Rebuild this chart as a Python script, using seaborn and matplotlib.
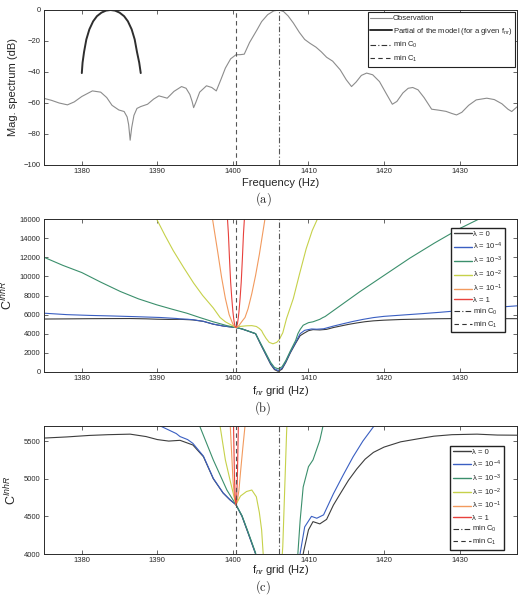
import numpy as np
import pandas as pd
import matplotlib
matplotlib.use("Agg")
import matplotlib.pyplot as plt
from matplotlib.lines import Line2D
import seaborn as sns

# ---- panel (a): observed spectrum and one partial of the model ----
obs_f = [1375.0, 1376.0, 1377.0, 1378.1, 1379.0, 1380.0, 1381.4, 1382.5, 1383.3, 1384.0,
         1384.9, 1385.6, 1386.0, 1386.2, 1386.4, 1386.6, 1386.9, 1387.3, 1387.8, 1388.7,
         1389.5, 1390.2, 1390.8, 1391.3, 1392.2, 1393.2, 1393.8, 1394.3, 1394.6, 1394.8,
         1395.1, 1395.6, 1396.5, 1397.2, 1397.8, 1398.4, 1399.0, 1399.7, 1400.4, 1401.0,
         1401.5, 1402.2, 1403.2, 1403.8, 1404.6, 1405.4, 1406.1, 1406.7, 1407.3, 1408.0,
         1408.8, 1409.5, 1410.2, 1411.0, 1411.7, 1412.4, 1413.2, 1414.2, 1415.0, 1415.7,
         1416.3, 1417.0, 1417.7, 1418.5, 1419.4, 1420.3, 1421.1, 1421.7, 1422.5, 1423.2,
         1423.8, 1424.5, 1425.3, 1426.3, 1427.2, 1428.2, 1429.0, 1429.6, 1430.3, 1431.2,
         1432.2, 1433.6, 1434.6, 1435.6, 1436.4, 1436.9, 1437.6]
obs_db = [-57.0, -58.3, -60.0, -61.2, -59.3, -55.8, -52.2, -53.0, -56.5, -61.5,
          -64.5, -65.5, -69.0, -74.0, -84.0, -76.0, -68.0, -63.5, -62.3, -60.8,
          -57.5, -55.4, -56.2, -56.9, -52.5, -49.4, -50.5, -54.5, -59.0, -63.0,
          -59.5, -53.0, -48.9, -50.0, -52.2, -45.0, -37.5, -31.5, -28.9, -28.8,
          -28.5, -21.0, -12.7, -7.5, -3.0, -0.6, 0.0, -1.0, -3.8, -8.4,
          -14.5, -19.0, -21.5, -24.0, -27.0, -30.5, -33.0, -38.6, -45.0, -49.4,
          -46.5, -42.2, -40.7, -41.8, -46.2, -54.0, -60.8, -59.0, -53.5, -50.5,
          -50.0, -51.5, -56.5, -64.0, -64.6, -65.4, -66.8, -67.7, -66.0, -61.5,
          -58.0, -56.9, -57.8, -60.5, -64.0, -65.5, -62.5]

part_f = [1380.0, 1380.1, 1380.3, 1380.6, 1381.0, 1381.5, 1382.0, 1382.6, 1383.2, 1383.8,
          1384.4, 1385.0, 1385.6, 1386.1, 1386.6, 1387.0, 1387.3, 1387.6, 1387.8]
part_db = [-40.7, -34.0, -27.0, -19.0, -12.5, -7.3, -4.0, -1.7, -0.4, 0.0,
           -0.4, -1.7, -4.0, -7.3, -12.5, -19.0, -27.0, -34.0, -40.7]

min_c1 = 1400.4
min_c0 = 1406.1

# ---- panels (b) and (c): cost function for each lambda ----
lam_labels = ["λ = 0", "λ = 10$^{-4}$", "λ = 10$^{-3}$",
              "λ = 10$^{-2}$", "λ = 10$^{-1}$", "λ = 1"]
lam_colors = ["#3d3d3d", "#3a5fc2", "#3b8f6c", "#c6d14a", "#f29a5e", "#e8413c"]

lam0_f = [1375.0, 1378.0, 1381.0, 1383.5, 1386.4, 1388.5, 1390.0, 1391.5, 1393.0, 1394.7,
          1396.1, 1397.4, 1398.7, 1399.6, 1400.4, 1401.2, 1402.0, 1403.0, 1403.6, 1404.3,
          1405.0, 1405.5, 1406.0, 1406.5, 1407.0, 1407.6, 1408.3, 1408.9, 1409.4, 1410.0,
          1410.6, 1411.5, 1412.4, 1413.3, 1414.2, 1415.3, 1416.4, 1417.5, 1418.6, 1420.0,
          1422.2, 1424.5, 1426.6, 1429.0, 1432.3, 1435.0, 1437.6]
lam0_c = [5540, 5555, 5575, 5585, 5592, 5560, 5520, 5500, 5510, 5448,
          5292, 5000, 4810, 4720, 4655, 4500, 4280, 4000, 3000, 1900,
          800, 250, 60, 300, 1000, 2000, 3000, 3800, 4050, 4320,
          4430, 4400, 4460, 4650, 4800, 4980, 5130, 5260, 5350, 5420,
          5490, 5530, 5565, 5585, 5592, 5580, 5578]

lam4_f = [1375.0, 1378.0, 1381.0, 1384.0, 1387.0, 1390.4, 1392.5, 1393.0, 1394.0, 1394.7,
          1396.1, 1397.4, 1398.7, 1399.6, 1400.4, 1401.2, 1402.0, 1403.0, 1403.6, 1404.3,
          1405.0, 1405.5, 1406.0, 1406.5, 1407.0, 1407.6, 1408.3, 1408.9, 1409.5, 1410.4,
          1411.1, 1412.0, 1413.3, 1414.6, 1415.9, 1417.2, 1418.6, 1420.0, 1422.5, 1425.0,
          1427.5, 1430.0, 1433.0, 1435.5, 1437.6]
lam4_c = [6150, 6000, 5920, 5860, 5790, 5700, 5600, 5560, 5520, 5470,
          5300, 5005, 4812, 4722, 4655, 4505, 4285, 4005, 3050, 1950,
          880, 330, 150, 400, 1080, 2080, 3100, 4010, 4360, 4500,
          4475, 4520, 4800, 5050, 5290, 5500, 5690, 5820, 5960, 6100,
          6250, 6420, 6650, 6800, 6920]

lam3_f = [1375.0, 1377.5, 1380.0, 1382.5, 1385.1, 1387.5, 1389.9, 1391.9, 1393.9, 1395.6,
          1397.4, 1399.2, 1400.4, 1401.2, 1402.0, 1403.0, 1403.6, 1404.3, 1405.0, 1405.5,
          1406.0, 1406.5, 1407.0, 1407.6, 1408.3, 1408.6, 1408.9, 1409.3, 1410.0, 1410.6,
          1411.5, 1411.9, 1412.2, 1414.5, 1416.8, 1420.0, 1423.4, 1426.7, 1430.0, 1432.7,
          1434.0]
lam3_c = [12000, 11150, 10400, 9400, 8420, 7650, 7030, 6580, 6150, 5700,
          5250, 4850, 4655, 4510, 4295, 4015, 3100, 2050, 1000, 480,
          330, 550, 1200, 2200, 3300, 4009, 4450, 4890, 5160, 5250,
          5510, 5690, 5800, 7100, 8400, 10100, 11900, 13500, 15000, 16050,
          16600]

lam2_f = [1389.5, 1389.9, 1391.0, 1392.1, 1393.5, 1394.8, 1396.0, 1397.4, 1398.3, 1399.0,
          1399.6, 1400.4, 1401.0, 1401.8, 1402.5, 1403.1, 1403.5, 1403.8, 1404.0, 1404.4,
          1404.8, 1405.3, 1405.8, 1406.1, 1406.6, 1407.1, 1408.0, 1408.8, 1409.7, 1410.5,
          1411.3, 1411.6]
lam2_c = [17000, 16000, 14300, 12700, 10900, 9300, 8000, 6700, 5700, 5250,
          4990, 4655, 4770, 4830, 4850, 4760, 4550, 4320, 4010, 3500,
          3100, 2950, 3100, 3350, 4100, 5600, 7700, 10200, 12900, 14800,
          16200, 17000]

lam1_f = [1397.0, 1397.4, 1398.0, 1398.5, 1399.0, 1399.5, 1400.0, 1400.2, 1400.4, 1400.6,
          1400.8, 1401.0, 1401.3, 1401.6, 1402.0, 1402.5, 1403.0, 1403.5, 1404.0, 1404.3]
lam1_c = [17500, 15500, 12500, 9900, 7700, 6000, 5000, 4760, 4655, 4720,
          4850, 5080, 5400, 5700, 6600, 8200, 10100, 12300, 14800, 16300]

lam_one_f = [1399.2, 1399.4, 1399.55, 1399.7, 1399.85, 1400.0, 1400.1, 1400.2, 1400.3, 1400.4,
             1400.5, 1400.6, 1400.7, 1400.8, 1400.95, 1401.1, 1401.25, 1401.4, 1401.6]
lam_one_c = [17000, 14500, 11800, 9400, 7700, 6300, 5600, 5050, 4760, 4655,
             4760, 5050, 5600, 6300, 7700, 9400, 11800, 14500, 17000]

curves = [(lam0_f, lam0_c), (lam4_f, lam4_c), (lam3_f, lam3_c),
          (lam2_f, lam2_c), (lam1_f, lam1_c), (lam_one_f, lam_one_c)]

cost = pd.concat(
    [pd.DataFrame({"f": f, "C": c, "lam": lab}) for (f, c), lab in zip(curves, lam_labels)],
    ignore_index=True,
)

x_ticks = [1380, 1390, 1400, 1410, 1420, 1430]

sns.set_style("ticks")
plt.rcParams["font.family"] = ["Liberation Sans", "DejaVu Sans"]
plt.rcParams["mathtext.fontset"] = "custom"
plt.rcParams["mathtext.rm"] = "Liberation Sans"
plt.rcParams["mathtext.it"] = "Liberation Sans:italic"
plt.rcParams["mathtext.bf"] = "Liberation Sans:bold"
plt.rcParams["axes.edgecolor"] = "#2a2a2a"
plt.rcParams["axes.linewidth"] = 0.7

fig = plt.figure(figsize=(5.26, 5.95), dpi=100)
ax_a = fig.add_axes([0.0837, 0.7227, 0.8992, 0.2605])
ax_b = fig.add_axes([0.0837, 0.3748, 0.8992, 0.2571])
ax_c = fig.add_axes([0.0837, 0.0689, 0.8992, 0.2151])

dash_c1 = (0, (4, 3))
dash_c0 = (0, (5, 2, 1, 2))
vcol = "#555555"


def style_axes(ax):
    ax.set_xlim(1375, 1437.6)
    ax.set_xticks(x_ticks)
    ax.tick_params(direction="in", top=True, right=True, length=3, width=0.5,
                   labelsize=5.5, pad=2.5, colors="#2a2a2a")
    for s in ax.spines.values():
        s.set_visible(True)


# (a)
sns.lineplot(x=obs_f, y=obs_db, ax=ax_a, color="#8c8c8c", linewidth=0.8, sort=False)
sns.lineplot(x=part_f, y=part_db, ax=ax_a, color="#2e2e2e", linewidth=1.4, sort=False)
ax_a.axvline(min_c0, color=vcol, linestyle=dash_c0, linewidth=0.8)
ax_a.axvline(min_c1, color=vcol, linestyle=dash_c1, linewidth=0.8)
style_axes(ax_a)
ax_a.set_ylim(-100, 0)
ax_a.set_yticks([-100, -80, -60, -40, -20, 0])
ax_a.set_xlabel("Frequency (Hz)", fontsize=8, labelpad=2)
ax_a.set_ylabel("Mag. spectrum (dB)", fontsize=8, labelpad=4)
h_a = [Line2D([], [], color="#8c8c8c", lw=0.8),
       Line2D([], [], color="#2e2e2e", lw=1.4),
       Line2D([], [], color="#333333", lw=0.8, ls=dash_c0),
       Line2D([], [], color="#333333", lw=0.8, ls=dash_c1)]
l_a = ["Observation", "Partial of the model (for a given f$_{nr}$)", "min C$_0$", "min C$_1$"]
leg = ax_a.legend(h_a, l_a, loc="upper right", bbox_to_anchor=(1.0, 1.0), borderaxespad=0.3,
                  fontsize=5.5, handlelength=2.8, handletextpad=0.15, labelspacing=0.45,
                  frameon=True, fancybox=False, framealpha=1, borderpad=0.35)
leg.get_frame().set_edgecolor("#222222")
leg.get_frame().set_linewidth(0.8)

# (b) and (c)
for ax, ylim, yticks, anchor, xpad in [
    (ax_b, (0, 16000), list(range(0, 16001, 2000)), (0.983, 0.967), 1),
    (ax_c, (4000, 5700), [4000, 4500, 5000, 5500], (0.981, 0.877), -1),
]:
    sns.lineplot(data=cost, x="f", y="C", hue="lam", palette=lam_colors,
                 hue_order=lam_labels, estimator=None, sort=False,
                 linewidth=0.8, ax=ax, legend=False)
    ax.axvline(min_c0, color=vcol, linestyle=dash_c0, linewidth=0.8)
    ax.axvline(min_c1, color=vcol, linestyle=dash_c1, linewidth=0.8)
    style_axes(ax)
    ax.set_ylim(*ylim)
    ax.set_yticks(yticks)
    ax.set_xlabel("f$_{nr}$ grid (Hz)", fontsize=8, labelpad=xpad)
    ax.set_ylabel("C$^{InhR}$", fontsize=9, labelpad=3)
    handles = [Line2D([], [], color=c, lw=1.0) for c in lam_colors]
    handles += [Line2D([], [], color="#333333", lw=0.8, ls=dash_c0),
                Line2D([], [], color="#333333", lw=0.8, ls=dash_c1)]
    labels = lam_labels + ["min C$_0$", "min C$_1$"]
    lg = ax.legend(handles, labels, loc="upper right", bbox_to_anchor=anchor,
                   fontsize=5.5, handlelength=2.4, handletextpad=0.2, labelspacing=0.35,
                   frameon=True, fancybox=False, framealpha=1, borderpad=0.35)
    lg.get_frame().set_edgecolor("#222222")
    lg.get_frame().set_linewidth(1.0)

for y, cap in [(0.665, "(a)"), (0.314, "(b)"), (0.013, "(c)")]:
    fig.text(0.5, y, r"$\mathrm{" + cap + "}$", math_fontfamily="cm",
             fontsize=9, ha="center", va="center")

fig.savefig("out.png", dpi=100)
